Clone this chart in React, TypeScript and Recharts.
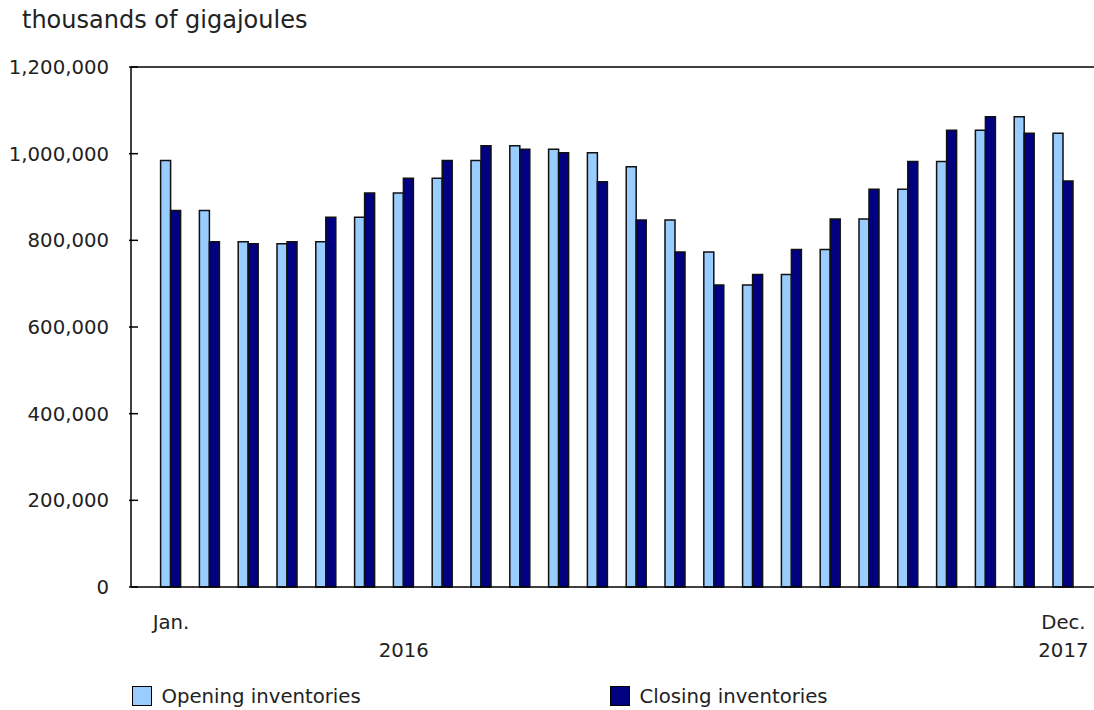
import React from "react"
import { BarChart, Bar, XAxis, YAxis, ReferenceLine } from "recharts"

const months = [
  "Jan. 2016", "Feb. 2016", "Mar. 2016", "Apr. 2016", "May 2016", "Jun. 2016",
  "Jul. 2016", "Aug. 2016", "Sep. 2016", "Oct. 2016", "Nov. 2016", "Dec. 2016",
  "Jan. 2017", "Feb. 2017", "Mar. 2017", "Apr. 2017", "May 2017", "Jun. 2017",
  "Jul. 2017", "Aug. 2017", "Sep. 2017", "Oct. 2017", "Nov. 2017", "Dec. 2017",
]

const opening = [
  984000, 869000, 797000, 792000, 797000, 853000, 909000, 943000, 984000, 1018000, 1010000, 1002000,
  970000, 847000, 773000, 697000, 721000, 779000, 849000, 918000, 982000, 1054000, 1085000, 1047000,
]

const closing = [
  869000, 797000, 792000, 797000, 853000, 909000, 943000, 984000, 1018000, 1010000, 1002000, 935000,
  847000, 773000, 697000, 721000, 779000, 849000, 918000, 982000, 1054000, 1085000, 1047000, 937000,
]

const yTicks = [0, 200000, 400000, 600000, 800000, 1000000, 1200000]

// tick labels under the x axis: [category index, month label, year label]
const xLabels: [number, string, string][] = [
  [0, "Jan.", ""],
  [6, "", "2016"],
  [23, "Dec.", "2017"],
]

const seriesNames = ["Opening inventories", "Closing inventories"]
const seriesColors = ["#99CCFF", "#000080"]

const data = months.map((m, i) => ({ month: m, opening: opening[i], closing: closing[i] }))

const FONT = "'DejaVu Sans', Verdana, sans-serif"
const FS = 19.7

function YTick(props: any) {
  const { x, y, payload } = props
  return (
    <g>
      <line x1={x} x2={x + 9} y1={y} y2={y} stroke="#000" strokeWidth={1.5} />
      <text x={x - 20} y={y} dy="0.36em" textAnchor="end" fontSize={FS} fill="#222" fontFamily={FONT}>
        {Number(payload.value).toLocaleString("en-US")}
      </text>
    </g>
  )
}

function XTick(props: any) {
  const { x, y, index } = props
  const lbl = xLabels.find((l) => l[0] === index)
  if (!lbl) return null
  return (
    <g>
      {lbl[1] && (
        <text x={x} y={y + 40} textAnchor="middle" fontSize={FS} fill="#222" fontFamily={FONT}>
          {lbl[1]}
        </text>
      )}
      {lbl[2] && (
        <text x={x} y={y + 68} textAnchor="middle" fontSize={FS} fill="#222" fontFamily={FONT}>
          {lbl[2]}
        </text>
      )}
    </g>
  )
}

export default function App() {
  return (
    <div style={{ position: "absolute", left: 0, top: 0, width: 1094, height: 710, background: "#fff", fontFamily: FONT }}>
      <div style={{ position: "absolute", left: 22, top: 7.5, fontSize: 24, lineHeight: "24px", color: "#222", whiteSpace: "nowrap" }}>
        thousands of gigajoules
      </div>
      <BarChart
        width={1094}
        height={710}
        data={data}
        margin={{ top: 67, right: 0, bottom: 0, left: 0 }}
        barGap={0}
        barCategoryGap={0}
      >
        <XAxis
          dataKey="month"
          interval={0}
          tickLine={false}
          tickSize={0}
          tick={<XTick />}
          height={123}
          stroke="#000"
          strokeWidth={1.5}
          padding={{ left: 20.6, right: 11.2 }}
        />
        <YAxis
          width={131}
          domain={[0, 1200000]}
          ticks={yTicks}
          interval={0}
          tickLine={false}
          tickSize={0}
          tick={<YTick />}
          stroke="#000"
          strokeWidth={1.5}
        />
        <ReferenceLine y={1200000} stroke="#000" strokeWidth={1.5} />
        <Bar dataKey="opening" name={seriesNames[0]} fill={seriesColors[0]} stroke="#111" strokeWidth={1.5} barSize={10} isAnimationActive={false} />
        <Bar dataKey="closing" name={seriesNames[1]} fill={seriesColors[1]} stroke="#111" strokeWidth={1.5} barSize={10} isAnimationActive={false} />
      </BarChart>
      {seriesNames.map((n, i) => (
        <div key={n} style={{ position: "absolute", left: i === 0 ? 132 : 610, top: 686, height: 20 }}>
          <div style={{ position: "absolute", left: 0, top: 0, width: 18, height: 18, background: seriesColors[i], border: "1.5px solid #000" }} />
          <div style={{ position: "absolute", left: 29.5, top: 0.5, fontSize: FS, lineHeight: "19px", color: "#222", whiteSpace: "nowrap" }}>
            {n}
          </div>
        </div>
      ))}
    </div>
  )
}
